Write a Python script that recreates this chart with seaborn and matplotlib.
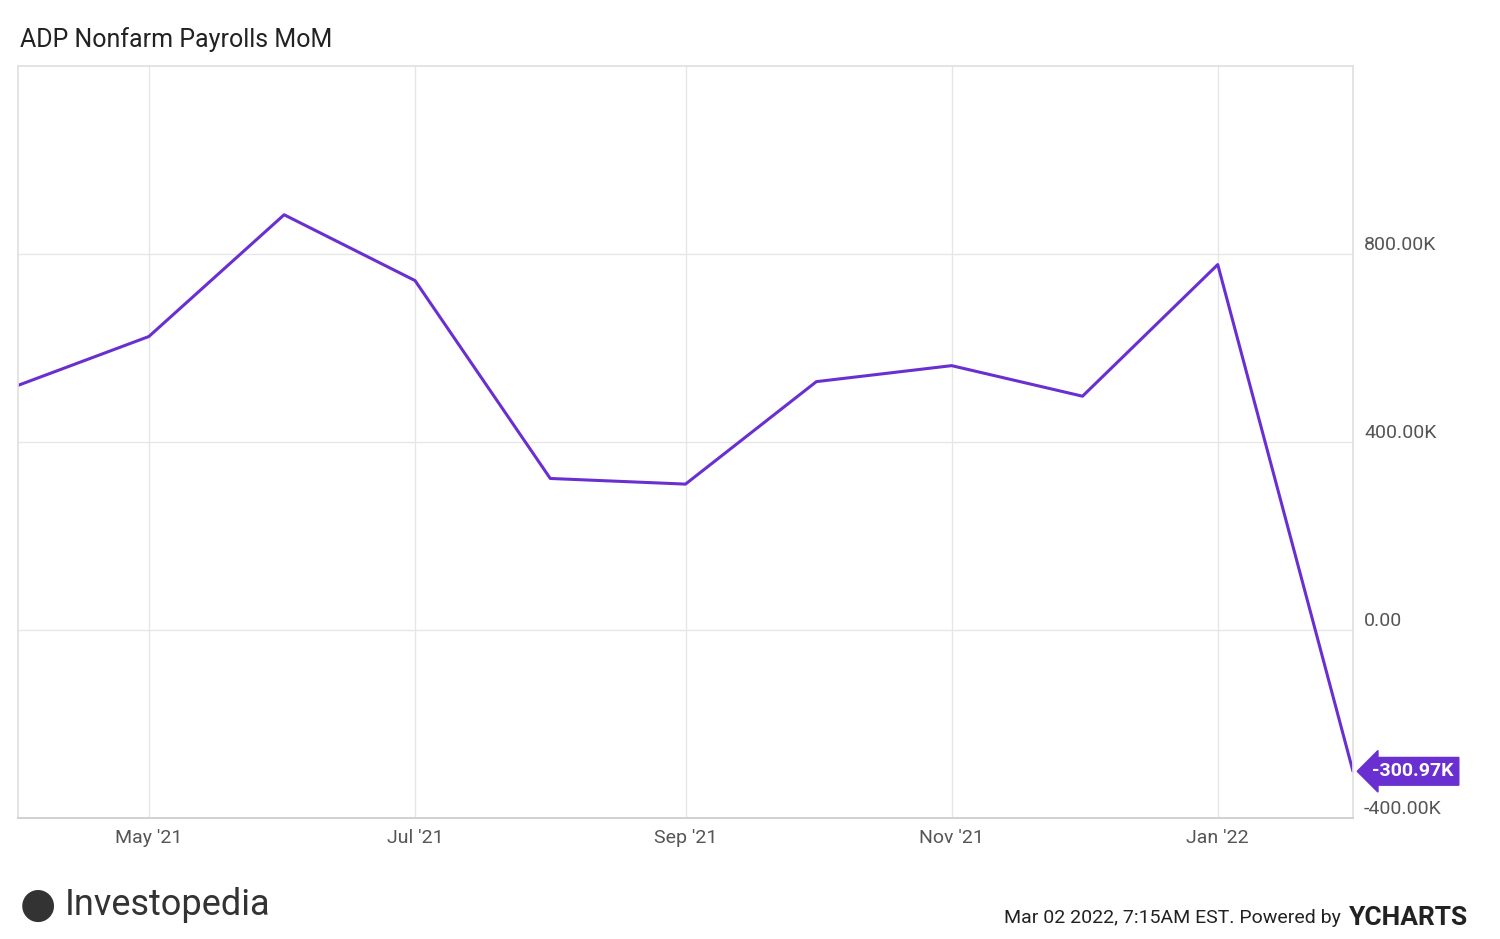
import pandas as pd
import numpy as np
import matplotlib.pyplot as plt
import matplotlib.dates as mdates
import seaborn as sns

# --- Data ---
months = ['2021-04-01', '2021-05-01', '2021-06-01', '2021-07-01', '2021-08-01', '2021-09-01',
          '2021-10-01', '2021-11-01', '2021-12-01', '2022-01-01', '2022-02-01']
payrolls_k = [520, 624, 883, 743, 322, 310, 528, 562, 497, 777, -300.97]

df = pd.DataFrame({'Date': pd.to_datetime(months), 'Value': payrolls_k})

sns.set_theme(style='white')
plt.rcParams['font.family'] = ['Roboto', 'DejaVu Sans']

fig = plt.figure(figsize=(15, 9.39), dpi=100)
ax = fig.add_axes([0.012, 0.129, 0.890, 0.801])

purple = '#6a2fd0'
sns.lineplot(data=df, x='Date', y='Value', color=purple, linewidth=2.2, ax=ax)

ax.set_xlim(pd.Timestamp('2021-04-01'), pd.Timestamp('2022-02-01'))
ax.set_ylim(-395, 1200)

# ticks & grid
ax.yaxis.tick_right()
ax.set_yticks([-400, 0, 400, 800])
ax.set_yticklabels(['-400.00K', '0.00', '400.00K', '800.00K'])
ax.xaxis.set_major_locator(mdates.MonthLocator(bymonth=[1, 3, 5, 7, 9, 11]))
ax.xaxis.set_major_formatter(mdates.DateFormatter("%b '%y"))
ax.tick_params(axis='both', labelsize=14, colors='#555555', length=0, pad=8)
for lab in ax.get_yticklabels():
    lab.set_verticalalignment('bottom')
ax.grid(True, color='#e6e6e6', linewidth=1)
ax.set_xlabel('')
ax.set_ylabel('')
for side in ['top', 'right', 'left']:
    ax.spines[side].set_color('#e0e0e0')
ax.spines['bottom'].set_color('#cccccc')

# last value label (arrow box pointing back at the line end)
last = df.iloc[-1]
ax.annotate('-300.97K', xy=(last['Date'], last['Value']), xytext=(14, 0),
            textcoords='offset points', va='center', ha='left', fontsize=14,
            fontweight='bold', color='white', annotation_clip=False,
            bbox=dict(boxstyle='larrow,pad=0.25', fc=purple, ec=purple))

# title and footer
fig.text(0.013, 0.958, 'ADP Nonfarm Payrolls MoM', fontsize=18, color='#222222', va='center')
fig.text(0.043, 0.036, 'Investopedia', fontsize=26, color='#333333', va='center')
fig.text(0.013, 0.036, '\u25CF', fontsize=30, color='#333333', va='center')
fig.text(0.897, 0.022, 'Mar 02 2022, 7:15AM EST. Powered by ', fontsize=14, color='#222222',
         ha='right', va='center')
fig.text(0.899, 0.022, 'YCHARTS', fontsize=19, fontweight='bold', color='#222222',
         ha='left', va='center')

fig.savefig('out.png', dpi=100)
